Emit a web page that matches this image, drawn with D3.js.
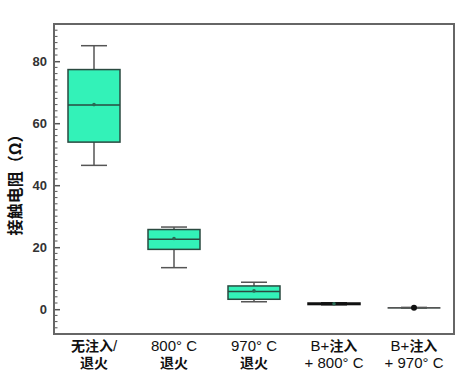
<!DOCTYPE html>
<html>
<head>
<meta charset="utf-8">
<script src="https://cdn.jsdelivr.net/npm/d3@7/dist/d3.min.js"></script>
<style>
  body { margin: 0; background: #fff; }
  svg { display: block; }
</style>
</head>
<body>
<div id="chart"></div>
<script>
// box stats
const categories = [['无注入/', '退火'], ['800° C', '退火'], ['970° C', '退火'], ['B+注入', '+ 800° C'], ['B+注入', '+ 970° C']];
const whiskerLow = [46.4, 13.4, 2.4, 1.45, 0.45];
const q1 = [53.9, 19.3, 3.2, 1.5, 0.45];
const median = [65.9, 22.6, 5.7, 1.7, 0.5];
const q3 = [77.3, 25.7, 7.5, 2.0, 0.5];
const whiskerHigh = [85.0, 26.5, 8.7, 2.05, 0.55];
const means = [66.0, 22.8, 5.9, 1.75, 0.5];
const yTicks = [0, 20, 40, 60, 80];

const width = 475, height = 379;
const margin = { top: 24, right: 21, bottom: 45, left: 54 };

const svg = d3.select('#chart').append('svg')
  .attr('width', width).attr('height', height);

const x = d3.scaleBand()
  .domain(d3.range(categories.length))
  .range([margin.left, width - margin.right])
  .paddingInner(0.35).paddingOuter(0.175);

const y = d3.scaleLinear()
  .domain([-8, 92])
  .range([height - margin.bottom, margin.top]);

const boxes = categories.map((c, i) => ({
  i, lo: whiskerLow[i], q1: q1[i], med: median[i], q3: q3[i], hi: whiskerHigh[i], mean: means[i]
}));

// minor ticks, inward
const minor = d3.range(-8, 93, 2).filter(v => !yTicks.includes(v));
svg.append('g').selectAll('line').data(minor).enter().append('line')
  .attr('x1', margin.left).attr('x2', margin.left + 3.5)
  .attr('y1', d => y(d)).attr('y2', d => y(d))
  .attr('stroke', '#555').attr('stroke-width', 1);

// major ticks + labels
const yAxis = svg.append('g')
  .attr('transform', `translate(${margin.left},0)`)
  .call(d3.axisRight(y).tickValues(yTicks).tickSize(6).tickFormat(''));
yAxis.select('.domain').remove();
yAxis.selectAll('line').attr('stroke', '#555').attr('stroke-width', 1.5);

svg.append('g').selectAll('text').data(yTicks).enter().append('text')
  .attr('x', margin.left - 7).attr('y', d => y(d))
  .attr('dy', '0.36em').attr('text-anchor', 'end')
  .attr('font-family', 'Liberation Sans, Arial, sans-serif')
  .attr('font-weight', 'bold').attr('font-size', 13).attr('fill', '#333')
  .text(d => d);

const bw = x.bandwidth();
const cx = i => x(i) + bw / 2;

const g = svg.append('g').selectAll('g').data(boxes).enter().append('g');

// whiskers
g.append('line')
  .attr('x1', d => cx(d.i)).attr('x2', d => cx(d.i))
  .attr('y1', d => y(d.hi)).attr('y2', d => y(d.lo))
  .attr('stroke', '#555').attr('stroke-width', 1.5);
g.selectAll('.cap').data(d => [d.lo, d.hi].map(v => ({ i: d.i, v }))).enter().append('line')
  .attr('x1', d => cx(d.i) - bw / 4).attr('x2', d => cx(d.i) + bw / 4)
  .attr('y1', d => y(d.v)).attr('y2', d => y(d.v))
  .attr('stroke', d => d.i >= 3 ? '#111' : '#555').attr('stroke-width', 1.5);

// box
g.append('rect')
  .attr('x', d => x(d.i)).attr('width', bw)
  .attr('y', d => y(d.q3)).attr('height', d => Math.max(0.5, y(d.q1) - y(d.q3)))
  .attr('fill', '#33f2b8')
  .attr('stroke', d => d.i === 3 ? '#111' : d.i === 4 ? '#555' : '#2a4a40')
  .attr('stroke-width', d => d.i === 4 ? 1 : 1.5);

// median
g.append('line')
  .attr('x1', d => x(d.i)).attr('x2', d => x(d.i) + bw)
  .attr('y1', d => y(d.med)).attr('y2', d => y(d.med))
  .attr('stroke', d => d.i === 3 ? '#111' : d.i === 4 ? '#555' : '#2a4a40')
  .attr('stroke-width', d => d.i === 4 ? 1.2 : 1.5);

// mean marker
g.append('circle')
  .attr('cx', d => cx(d.i)).attr('cy', d => y(d.mean))
  .attr('r', d => d.i === 4 ? 3 : 1.8)
  .attr('fill', d => d.i === 4 ? '#111' : '#2a6a55');

// frame
svg.append('rect')
  .attr('x', margin.left).attr('y', margin.top)
  .attr('width', width - margin.left - margin.right)
  .attr('height', height - margin.top - margin.bottom)
  .attr('fill', 'none').attr('stroke', '#666').attr('stroke-width', 2);

// category labels, one text per line; CJK runs bold
const cjk = /([\u4e00-\u9fff]+)/;
categories.forEach((lines, i) => {
  lines.forEach((line, k) => {
    const t = svg.append('text')
      .attr('x', cx(i)).attr('y', 351 + k * 16.5)
      .attr('text-anchor', 'middle')
      .attr('font-family', 'Liberation Sans, Arial, sans-serif')
      .attr('font-size', 15).attr('fill', '#111');
    line.split(cjk).filter(s => s.length).forEach(p => {
      const ts = t.append('tspan').text(p);
      if (cjk.test(p)) ts.attr('font-family', '"Noto Sans CJK SC", sans-serif')
        .attr('font-weight', 'bold').attr('font-size', 14);
    });
  });
});

// y title
svg.append('text')
  .attr('transform', `translate(21,181) rotate(-90)`)
  .attr('text-anchor', 'middle')
  .attr('font-family', '"Noto Sans CJK SC", sans-serif')
  .attr('font-weight', 'bold').attr('font-size', 16).attr('fill', '#111')
  .text('接触电阻（Ω）');
</script>
</body>
</html>
